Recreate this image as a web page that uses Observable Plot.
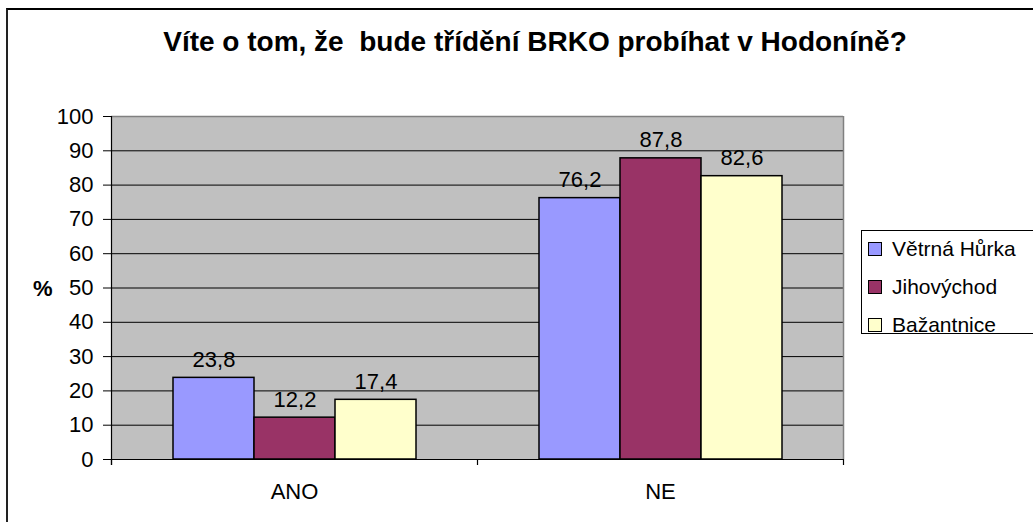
<!DOCTYPE html>
<html>
<head>
<meta charset="utf-8">
<script src="https://cdn.jsdelivr.net/npm/d3@7"></script>
<script src="https://cdn.jsdelivr.net/npm/@observablehq/plot@0.6"></script>
<style>
  html, body { margin: 0; padding: 0; background: #fff; }
  #chart { position: relative; width: 1033px; height: 522px; overflow: hidden; font-family: "Liberation Sans", Arial, sans-serif; color: #000; }
  #border { position: absolute; left: 6px; top: 8px; width: 1200px; height: 700px; border-top: 2px solid #000; border-left: 2px solid #222; }
  #title { position: absolute; left: 35px; width: 1000px; top: 26px; text-align: center; font-weight: bold; font-size: 28px; white-space: pre; }
  #ylabel { position: absolute; left: 33px; top: 276px; font-weight: bold; font-size: 22px; }
  #plot { position: absolute; left: 0; top: 0; }
  #legend { position: absolute; left: 861px; top: 230px; width: 300px; height: 102px; border: 1px solid #000; background: #fff; }
  .item { position: absolute; left: 6px; height: 26px; display: flex; align-items: center; font-size: 21px; }
  .sw { width: 12px; height: 12px; border: 1px solid #000; margin-right: 10px; }
</style>
</head>
<body>
<div id="chart">
  <div id="border"></div>
  <div id="title"></div>
  <div id="ylabel">%</div>
  <div id="plot"></div>
  <div id="legend"></div>
</div>
<script>
const title = "Víte o tom, že  bude třídění BRKO probíhat v Hodoníně?";
const categories = ["ANO", "NE"];
const seriesNames = ["Větrná Hůrka", "Jihovýchod", "Bažantnice"];
const seriesColors = ["#9999FF", "#993366", "#FFFFCC"];
const valuesVetrnaHurka = [23.8, 76.2];
const valuesJihovychod = [12.2, 87.8];
const valuesBazantnice = [17.4, 82.6];
const yTicks = [0, 10, 20, 30, 40, 50, 60, 70, 80, 90, 100];

const seriesValues = [valuesVetrnaHurka, valuesJihovychod, valuesBazantnice];
const data = [];
categories.forEach((c, ci) => {
  seriesNames.forEach((s, si) => {
    data.push({category: c, series: s, value: seriesValues[si][ci]});
  });
});

document.getElementById("title").textContent = title;

const fmt = v => v.toFixed(1).replace(".", ",");

const plot = Plot.plot({
  width: 860,
  height: 522,
  marginLeft: 111,
  marginRight: 17,
  marginTop: 116,
  marginBottom: 63,
  style: {fontFamily: "'Liberation Sans', Arial, sans-serif", fontSize: "22px", color: "#000", background: "transparent"},
  facet: {data, x: "category", label: null},
  fx: {domain: categories, paddingInner: 0, paddingOuter: 0, axis: "bottom", tickSize: 0, tickPadding: 24, label: null},
  x: {domain: seriesNames, paddingInner: 0, paddingOuter: 0.74, axis: null},
  y: {domain: [0, 100], ticks: yTicks, tickSize: 8, tickPadding: 10, tickFormat: d => String(d), label: null},
  color: {domain: seriesNames, range: seriesColors},
  marks: [
    Plot.ruleY(yTicks.filter(d => d > 0 && d < 100), {stroke: "#000", strokeWidth: 1}),
    Plot.ruleY([100], {stroke: "#808080", strokeWidth: 1.5}),
    Plot.barY(data, {x: "series", y: "value", fill: "series", stroke: "#000", strokeWidth: 1.5}),
    Plot.text(data, {x: "series", y: "value", text: d => fmt(d.value), lineAnchor: "bottom", dy: -11, fontSize: 22, fill: "#000"})
  ]
});
document.getElementById("plot").appendChild(plot);

// plot-area background, axis lines & category boundary ticks, positioned from Plot's own scales
const fx = plot.scale("fx");
const ys = plot.scale("y");
const y0 = ys.apply(0), y1 = ys.apply(100);
const left = fx.apply(categories[0]);
const right = fx.apply(categories[categories.length - 1]) + fx.bandwidth;
const svg = d3.select(plot);
const styleEl = plot.querySelector("style");
const bg = document.createElementNS("http://www.w3.org/2000/svg", "rect");
bg.setAttribute("x", left);
bg.setAttribute("y", y1);
bg.setAttribute("width", right - left);
bg.setAttribute("height", y0 - y1);
bg.setAttribute("fill", "#C0C0C0");
if (styleEl && styleEl.nextSibling) plot.insertBefore(bg, styleEl.nextSibling); else plot.insertBefore(bg, plot.firstChild);

const g = svg.append("g");
g.append("line").attr("x1", right + 0.5).attr("x2", right + 0.5).attr("y1", y1).attr("y2", y0).attr("stroke", "#808080").attr("stroke-width", 1.5);
g.append("line").attr("x1", left).attr("x2", right).attr("y1", y0 + 0.5).attr("y2", y0 + 0.5).attr("stroke", "#000").attr("stroke-width", 1.2);
g.append("line").attr("x1", left + 0.5).attr("x2", left + 0.5).attr("y1", y1).attr("y2", y0 + 6).attr("stroke", "#000").attr("stroke-width", 1.2);
const edges = categories.map(c => fx.apply(c)).concat([right]);
edges.forEach(x => {
  g.append("line").attr("x1", x + 0.5).attr("x2", x + 0.5).attr("y1", y0).attr("y2", y0 + 6).attr("stroke", "#000").attr("stroke-width", 1.2);
});

// legend
const legend = document.getElementById("legend");
seriesNames.forEach((s, i) => {
  const item = document.createElement("div");
  item.className = "item";
  item.style.top = (5 + i * 38) + "px";
  const sw = document.createElement("div");
  sw.className = "sw";
  sw.style.background = seriesColors[i];
  const t = document.createElement("span");
  t.textContent = s;
  item.appendChild(sw);
  item.appendChild(t);
  legend.appendChild(item);
});
</script>
</body>
</html>
